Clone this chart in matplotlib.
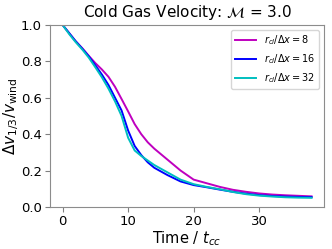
import matplotlib
matplotlib.use("Agg")
import matplotlib.pyplot as plt

# time in units of t_cc
t = [0, 1, 2, 3, 4, 5, 6, 7, 8, 9, 10, 11, 12, 13, 14, 16, 18, 20, 22, 24, 26, 28, 30, 32, 34, 36, 38]

v_res8 = [1.0, 0.955, 0.91, 0.872, 0.83, 0.79, 0.755, 0.715, 0.66, 0.593, 0.525, 0.455, 0.40, 0.355,
          0.32, 0.26, 0.20, 0.15, 0.13, 0.11, 0.094, 0.083, 0.074, 0.068, 0.064, 0.061, 0.058]
v_res16 = [1.0, 0.955, 0.91, 0.87, 0.827, 0.778, 0.727, 0.67, 0.60, 0.53, 0.42, 0.335, 0.285, 0.245,
           0.215, 0.175, 0.14, 0.12, 0.108, 0.095, 0.083, 0.073, 0.065, 0.06, 0.057, 0.055, 0.054]
v_res32 = [1.0, 0.95, 0.905, 0.865, 0.82, 0.767, 0.712, 0.65, 0.58, 0.50, 0.38, 0.31, 0.28, 0.255,
           0.23, 0.19, 0.15, 0.125, 0.11, 0.097, 0.082, 0.07, 0.062, 0.057, 0.053, 0.051, 0.05]

labels = [r'$r_{cl}/\Delta x = 8$', r'$r_{cl}/\Delta x = 16$', r'$r_{cl}/\Delta x = 32$']
colors = ['m', 'b', 'c']

fig = plt.figure(figsize=(3.32, 2.49), dpi=100)
ax = fig.add_axes([0.151, 0.169, 0.825, 0.731])

for v, c, lab in zip([v_res8, v_res16, v_res32], colors, labels):
    ax.plot(t, v, color=c, lw=1.4, label=lab)

ax.set_ylim(0, 1)
ax.set_xticks([0, 10, 20, 30])
ax.set_yticks([0.0, 0.2, 0.4, 0.6, 0.8, 1.0])
ax.tick_params(labelsize=9.5, color='0.5', length=3.5, pad=2.5)
for s in ax.spines.values():
    s.set_color('0.55')

ax.set_title(r'Cold Gas Velocity: $\mathcal{M}$ = 3.0', fontsize=11)
ax.set_xlabel(r'Time / $t_{cc}$', fontsize=10.5, labelpad=1)
ax.set_ylabel(r'$\Delta v_{1/3}/v_{\rm wind}$', fontsize=11, labelpad=0)
ax.legend(loc='upper right', fontsize=7, handlelength=2.2)

fig.savefig('out.png', dpi=100)
